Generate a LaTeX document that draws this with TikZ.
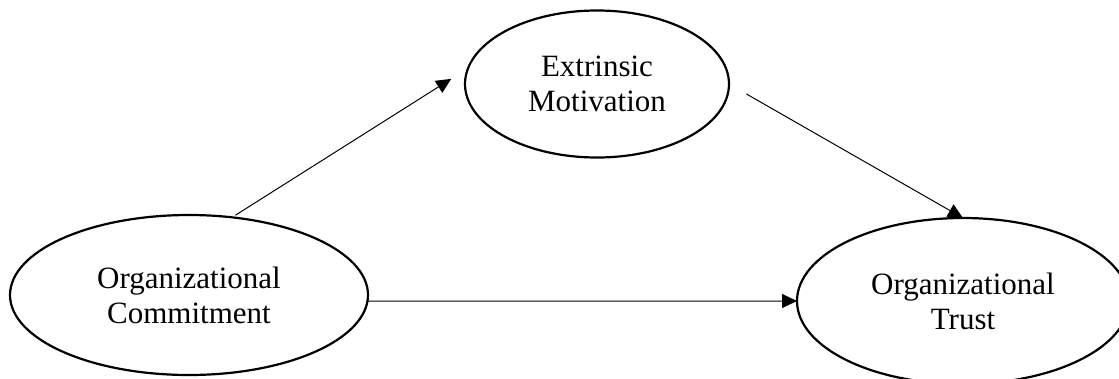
\documentclass[tikz,border=0pt]{standalone}
\usepackage{fontspec}
\setmainfont{Liberation Serif}
\usetikzlibrary{arrows.meta,shapes.geometric}
\tikzset{
  construct/.style={draw, line width=2.2pt, ellipse, inner sep=0pt, outer sep=0pt, align=center,
    font=\fontsize{31}{35}\selectfont},
  arr/.style={line width=1pt, -{Triangle[length=15pt,width=14pt]}}
}
\begin{document}
\begin{tikzpicture}[x=1pt,y=-1pt]
\useasboundingbox (0,0) rectangle (1119,378);
\node[construct, minimum width=358pt, minimum height=160pt] (oc) at (189,295) {Organizational\\Commitment};
\node[construct, minimum width=264pt, minimum height=147pt] (em) at (597,84) {Extrinsic\\Motivation};
\node[construct, minimum width=332pt, minimum height=166pt] (ot) at (963,301) {Organizational\\Trust};
\draw[arr, shorten <=4pt, shorten >=20pt] (oc.61) -- (em.173);
\draw[arr, shorten <=20pt] (em.east) -- (ot.north);
\draw[arr] (oc.-2) -- (ot.west);
\end{tikzpicture}
\end{document}
